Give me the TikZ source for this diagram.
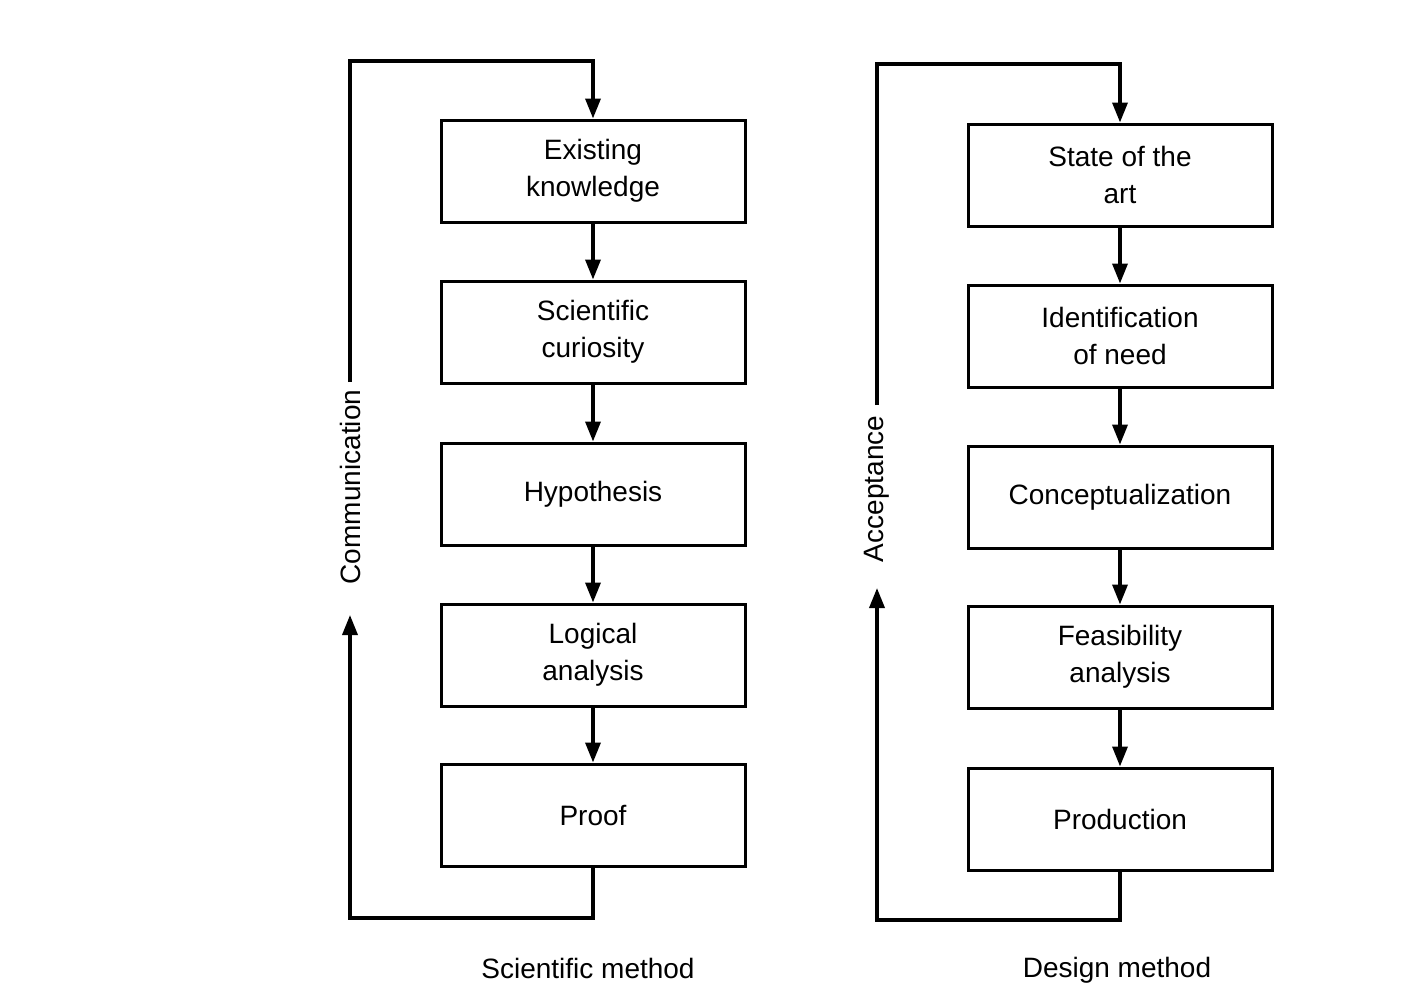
\documentclass[tikz,border=0pt]{standalone}
\usepackage{fontspec}
\setmainfont{Liberation Sans}
\usetikzlibrary{arrows.meta}
\begin{document}
\begin{tikzpicture}[x=1pt,y=-1pt,
  stepbox/.style={draw, line width=3pt, minimum width=304pt, minimum height=102pt,
    align=center, inner sep=0pt, font=\fontsize{28}{37}\selectfont},
  flow/.style={line width=3.5pt, -{Triangle[length=20pt,width=15pt]}},
  sidelabel/.style={rotate=90, inner sep=0pt, font=\fontsize{28}{34}\selectfont},
  caption/.style={inner sep=0pt, font=\fontsize{28}{34}\selectfont}]
\useasboundingbox (0,0) rectangle (1422,990);

% Scientific method
\node[stepbox] (ek) at (593,171) {Existing\\knowledge};
\node[stepbox] (sc) at (593,332) {Scientific\\curiosity};
\node[stepbox] (hy) at (593,494) {Hypothesis};
\node[stepbox] (la) at (593,655) {Logical\\analysis};
\node[stepbox] (pr) at (593,815) {Proof};
\node[sidelabel] (comm) at (350,487) {Communication};
\node[caption] (sm) at (588,968) {Scientific method};

\draw[flow] (ek) -- (sc);
\draw[flow] (sc) -- (hy);
\draw[flow] (hy) -- (la);
\draw[flow] (la) -- (pr);
\coordinate (ltop) at (350,61);
\coordinate (lbot) at (350,918);
\coordinate (lup) at (350,615);
\draw[flow] (350,382) -- (ltop) -| (ek.north);
\draw[flow] (pr.south) |- (lbot) -- (lup);

% Design method
\node[stepbox] (sa) at (1120,175) {State of the\\art};
\node[stepbox] (in) at (1120,336) {Identification\\of need};
\node[stepbox] (co) at (1120,497) {Conceptualization};
\node[stepbox] (fa) at (1120,657) {Feasibility\\analysis};
\node[stepbox] (pd) at (1120,819) {Production};
\node[sidelabel] (acc) at (877,489) {Acceptance};
\node[caption] (dm) at (1117,970) {Design method};

\draw[flow] (sa) -- (in);
\draw[flow] (in) -- (co);
\draw[flow] (co) -- (fa);
\draw[flow] (fa) -- (pd);
\coordinate (rtop) at (877,64);
\coordinate (rbot) at (877,920);
\coordinate (rup) at (877,588);
\draw[flow] (877,405) -- (rtop) -| (sa.north);
\draw[flow] (pd.south) |- (rbot) -- (rup);
\end{tikzpicture}
\end{document}
